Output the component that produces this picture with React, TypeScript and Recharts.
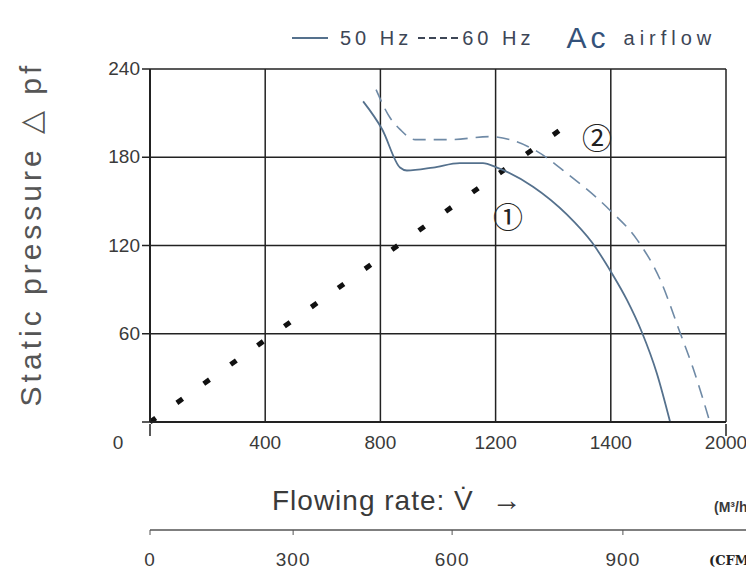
import React from "react";
import {
  ComposedChart,
  Line,
  XAxis,
  YAxis,
  CartesianGrid,
  Legend,
  ReferenceDot,
} from "recharts";

// flow in m3/h, static pressure in Pa
const hz50Flow = [740, 806, 868, 892, 983, 1076, 1156, 1205, 1330, 1448, 1535, 1604, 1656, 1708, 1760, 1806];
const hz50Pressure = [218, 199, 173, 171, 173, 176, 176, 173, 160, 141, 122, 101, 83, 61, 33, 0];

const hz60Flow = [785, 833, 868, 920, 1042, 1181, 1250, 1344, 1448, 1597, 1691, 1771, 1840, 1885, 1944];
const hz60Pressure = [226, 207, 199, 192, 192, 194, 192, 184, 169, 144, 124, 97, 61, 37, 0];

const systemFlow = [0, 1420];
const systemPressure = [0, 198];

const xTicks = [0, 400, 800, 1200, 1600, 2000];
const xTickLabels = ["0", "400", "800", "1200", "1400", "2000"];
const yTicks = [0, 60, 120, 180, 240];
const cfmTicks = [0, 497, 1049, 1642];
const cfmTickLabels = ["0", "300", "600", "900"];

const zip = (xs: number[], ys: number[]) => xs.map((x, i) => ({ x, y: ys[i] }));
const hz50 = zip(hz50Flow, hz50Pressure);
const hz60 = zip(hz60Flow, hz60Pressure);
const system = zip(systemFlow, systemPressure);

const FONT = '"Liberation Sans", Arial, sans-serif';
const TEXT = "#3a3a3a";
const CURVE = "#55718d";

const XTick = (props: any) => {
  const { x, y, payload, index } = props;
  const isEnd = index === 0 || index === xTicks.length - 1;
  return (
    <g>
      {isEnd && <line x1={x} x2={x} y1={y} y2={y + 12} stroke="#222" strokeWidth={1.5} />}
      <text
        x={x + (payload.value === 0 ? -32 : 0)}
        y={y + 25}
        textAnchor="middle"
        fontSize={19}
        fontFamily={FONT}
        fill={TEXT}
      >
        {xTickLabels[index]}
      </text>
    </g>
  );
};

const YTick = (props: any) => {
  const { x, y, payload } = props;
  if (payload.value === 0) return null;
  return (
    <text x={x} y={y + 6} textAnchor="end" fontSize={19} fontFamily={FONT} fill={TEXT}>
      {payload.value}
    </text>
  );
};

const CfmTick = (props: any) => {
  const { x, y, index } = props;
  return (
    <text x={x} y={y + 29} textAnchor="middle" fontSize={19} fontFamily={FONT} fill={TEXT} letterSpacing={1}>
      {cfmTickLabels[index]}
    </text>
  );
};

const FlowLabel = (props: any) => {
  const { viewBox } = props;
  const { y } = viewBox;
  return (
    <g>
      <text x={264} y={y + 88} fontSize={28} fontFamily={FONT} fill={TEXT} letterSpacing={1}>
        Flowing rate: V̇
        <tspan dx={18} fontSize={30}>→</tspan>
      </text>
      <text x={706} y={y + 90} fontSize={14} fontFamily={FONT} fontWeight="bold" fill={TEXT}>
        (M³/h)
      </text>
    </g>
  );
};

const CfmLabel = (props: any) => {
  const { viewBox } = props;
  const { x, y, width } = viewBox;
  return (
    <g>
      <line x1={x + width} x2={746} y1={y} y2={y} stroke="#555" strokeWidth={1.5} />
      <text x={701} y={y + 35} fontSize={13} fontFamily='"DejaVu Serif", serif' fontWeight="bold" fill="#222">
        (CFM)
      </text>
    </g>
  );
};

const PressureLabel = () => (
  <text
    x={22}
    y={226}
    transform="rotate(-90, 22, 226)"
    textAnchor="middle"
    dominantBaseline="central"
    fontSize={30}
    fontFamily={FONT}
    fill="#555"
    letterSpacing={4}
  >
    Static pressure △ pf
  </text>
);

const LegendContent = () => (
  <div
    style={{
      display: "flex",
      alignItems: "center",
      fontFamily: FONT,
      color: "#3d4656",
      whiteSpace: "nowrap",
    }}
  >
    <svg width={36} height={10}>
      <line x1={0} x2={36} y1={5} y2={5} stroke={CURVE} strokeWidth={2} />
    </svg>
    <span style={{ fontSize: 20, marginLeft: 12, letterSpacing: 4 }}>50 Hz</span>
    <svg width={46} height={10} style={{ marginLeft: 4 }}>
      <line x1={2} x2={46} y1={5} y2={5} stroke="#3d4656" strokeWidth={2} strokeDasharray="7 4" />
    </svg>
    <span style={{ fontSize: 20, letterSpacing: 4 }}>60 Hz</span>
    <span style={{ fontSize: 30, marginLeft: 32, letterSpacing: 4, color: "#34527a" }}>Ac</span>
    <span style={{ fontSize: 20, marginLeft: 14, letterSpacing: 5 }}>airflow</span>
  </div>
);

export default function App() {
  return (
    <ComposedChart width={746} height={570} margin={{ top: 61, right: 28, bottom: 0, left: 0 }}>
      <CartesianGrid stroke="#222" strokeWidth={1.5} />
      <XAxis
        dataKey="x"
        type="number"
        domain={[0, 2000]}
        ticks={xTicks}
        tickSize={0}
        tickLine={false}
        tick={<XTick />}
        height={108}
        axisLine={{ stroke: "#222", strokeWidth: 2 }}
        allowDataOverflow
        label={<FlowLabel />}
      />
      <XAxis
        xAxisId="cfm"
        dataKey="x"
        type="number"
        domain={[0, 2000]}
        ticks={cfmTicks}
        tickSize={5}
        tickLine={{ stroke: "#555" }}
        tick={<CfmTick />}
        height={48}
        axisLine={{ stroke: "#555", strokeWidth: 1.5 }}
        allowDataOverflow
        label={<CfmLabel />}
      />
      <YAxis
        type="number"
        domain={[0, 240]}
        ticks={yTicks}
        width={142}
        tickSize={8}
        tickMargin={2}
        tickLine={{ stroke: "#222", strokeWidth: 1.5 }}
        axisLine={{ stroke: "#222", strokeWidth: 2 }}
        tick={<YTick />}
        label={<PressureLabel />}
      />
      <Legend
        verticalAlign="middle"
        layout="horizontal"
        content={<LegendContent />}
        wrapperStyle={{ top: 13, left: 284, width: 460, height: 34 }}
      />
      <Line
        data={system}
        dataKey="y"
        type="linear"
        stroke="#111"
        strokeWidth={5}
        strokeDasharray="7 26"
        dot={false}
        isAnimationActive={false}
      />
      <Line
        data={hz50}
        dataKey="y"
        type="monotone"
        stroke={CURVE}
        strokeWidth={1.8}
        dot={false}
        isAnimationActive={false}
      />
      <Line
        data={hz60}
        dataKey="y"
        type="monotone"
        stroke="#6f8aa6"
        strokeWidth={1.6}
        strokeDasharray="13 8"
        dot={false}
        isAnimationActive={false}
      />
      <Line
        xAxisId="cfm"
        data={hz50}
        dataKey="y"
        stroke="none"
        dot={false}
        activeDot={false}
        legendType="none"
        isAnimationActive={false}
      />
      <ReferenceDot
        x={1243}
        y={139}
        r={0}
        stroke="none"
        label={{ value: "①", position: "center", fontSize: 30, fill: "#222", fontFamily: '"Noto Sans CJK JP"' }}
      />
      <ReferenceDot
        x={1552}
        y={193}
        r={0}
        stroke="none"
        label={{ value: "②", position: "center", fontSize: 30, fill: "#222", fontFamily: '"Noto Sans CJK JP"' }}
      />
    </ComposedChart>
  );
}
